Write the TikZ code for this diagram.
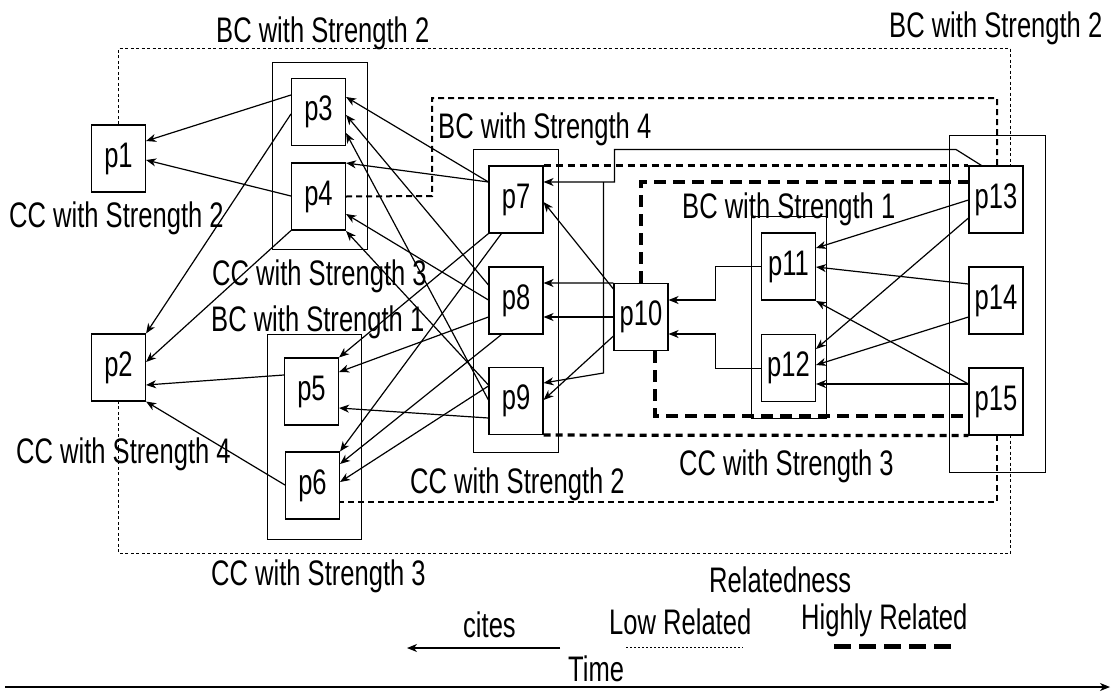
\documentclass[tikz,border=0pt]{standalone}
\usepackage{fontspec}
\newfontfamily\lbl[FakeStretch=0.72]{Liberation Sans}
\usetikzlibrary{arrows.meta}
\pgfdeclarelayer{bg}
\pgfsetlayers{bg,main}
\begin{document}
\begin{tikzpicture}[x=1pt,y=-1pt,
  pbox/.style={draw, fill=white, line width=1.1pt, minimum width=54pt, minimum height=67pt, inner sep=0pt, font=\lbl\fontsize{35.5}{40}\selectfont},
  grp/.style={draw, line width=1.1pt},
  lab/.style={anchor=base west, inner sep=0pt, font=\lbl\fontsize{35.5}{40}\selectfont},
  cite/.style={line width=1.2pt, -{Stealth[length=10pt,width=8pt,inset=3pt]}},
  low/.style={line width=1pt, dash pattern=on 3pt off 2.5pt},
  mid/.style={line width=2pt, dash pattern=on 6pt off 4pt},
  high/.style={line width=3.2pt, dash pattern=on 7pt off 5pt},
  vhigh/.style={line width=4.5pt, dash pattern=on 12pt off 7pt},
  legendhigh/.style={line width=5pt, dash pattern=on 17pt off 8pt},
]
\useasboundingbox (0,0) rectangle (1114,691);

% paper nodes
\node[pbox] (p1) at (118.5,158.5) {p1};
\node[pbox] (p2) at (118.5,367.5) {p2};
\node[pbox] (p3) at (318.5,112) {p3};
\node[pbox] (p4) at (318.5,196.5) {p4};
\node[pbox] (p5) at (311.5,391.5) {p5};
\node[pbox] (p6) at (312.5,485.5) {p6};
\node[pbox] (p7) at (516,199.5) {p7};
\node[pbox] (p8) at (516,300.5) {p8};
\node[pbox] (p9) at (516,401) {p9};
\node[pbox] (p10) at (641,317) {p10};
\node[pbox] (p11) at (788.5,266.5) {p11};
\node[pbox] (p12) at (788.5,368) {p12};
\node[pbox] (p13) at (996,199.5) {p13};
\node[pbox] (p14) at (996,300.5) {p14};
\node[pbox] (p15) at (996,401.5) {p15};

% labels
\node[lab] (t1) at (216,42) {BC with Strength 2};
\node[lab] (t2) at (889,37) {BC with Strength 2};
\node[lab] (t3) at (9,227) {CC with Strength 2};
\node[lab] (t4) at (212,285) {CC with Strength 3};
\node[lab] (t5) at (211,331) {BC with Strength 1};
\node[lab] (t6) at (16,463) {CC with Strength 4};
\node[lab] (t7) at (211,585) {CC with Strength 3};
\node[lab] (t8) at (438,138) {BC with Strength 4};
\node[lab] (t9) at (410,493) {CC with Strength 2};
\node[lab] (t10) at (682,218) {BC with Strength 1};
\node[lab] (t11) at (679,475) {CC with Strength 3};
\node[lab] (t12) at (709,592) {Relatedness};
\node[lab] (t13) at (463,637) {cites};
\node[lab] (t14) at (609,634) {Low Related};
\node[lab] (t15) at (801,629) {Highly Related};
\node[lab] (t16) at (568,681) {Time};

\coordinate (citesR) at (560,648);
\coordinate (citesL) at (407,648);
\coordinate (lowL) at (626,647);
\coordinate (lowR) at (743,647);
\coordinate (highL) at (834,646);
\coordinate (highR) at (951,646);
\coordinate (timeL) at (5,687);
\coordinate (timeR) at (1110,687);

\begin{pgfonlayer}{bg}
\fill[white] (0,0) rectangle (1114,691);
% groups
\draw[grp] (272.5,62.5) rectangle (367.5,249.5);
\draw[grp] (267.5,334.5) rectangle (361.5,539.5);
\draw[grp] (473.5,149.5) rectangle (558.5,452.5);
\draw[grp] (751.5,216.5) rectangle (826.5,418.5);
\draw[grp] (949.5,135.5) rectangle (1045.5,472.5);

% relatedness regions
\draw[low] (p1.north) -- (118.5,48.5) -- (1010.5,48.5) -- (1010.5,166);
\draw[low] (1010.5,435) -- (1010.5,553.5) -- (118.5,553.5) -- (p2.south);
\draw[mid] (p4.east) -- (432,196) -- (432,98) -- (997,98) -- (997,166);
\draw[mid] (997,435) -- (997,502) -- (p6.east |- 0,502);
\draw[high] (p7.north east) -- (p13.north west);
\draw[high] (p9.south east) -- (p15.south west);
\draw[vhigh] (p10.north) -- (641,182) -- (p13.west |- 0,182);
\draw[vhigh] (655,351) -- (655,416) -- (p15.west |- 0,416);

% citations, left part
\draw[cite] (p3.west |- 0,95) -- (p1.east |- 0,141);
\draw[cite] (p4.west |- 0,196) -- (p1.east |- 0,160);
\draw[cite] (p3.west |- 0,114) -- (p2.north east);
\draw[cite] (p4.south west) -- (p2.east |- 0,362);
\draw[cite] (p5.west |- 0,375) -- (p2.east |- 0,385);
\draw[cite] (p6.west |- 0,485) -- (p2.south east);

% citations, middle part
\draw[cite] (p7.west |- 0,182) -- (p3.east |- 0,97);
\draw[cite] (p7.west |- 0,182) -- (p4.east |- 0,163);
\draw[cite] (p8.west |- 0,285) -- (p3.east |- 0,115);
\draw[cite] (p8.west |- 0,300) -- (p4.east |- 0,214);
\draw[cite] (p9.west |- 0,400) -- (p3.east |- 0,133);
\draw[cite] (p9.west |- 0,385) -- (p4.east |- 0,231);
\draw[cite] (p7.south west) -- (p5.north east);
\draw[cite] ([xshift=13pt]p7.south west) -- (p6.north east);
\draw[cite] (p8.west |- 0,317) -- (p5.east |- 0,372);
\draw[cite] ([xshift=13pt]p8.south west) -- (p6.east |- 0,464);
\draw[cite] (p9.west |- 0,418) -- (p5.east |- 0,408);
\draw[cite] (p9.west |- 0,386) -- (p6.east |- 0,482);

% citations, right part
\draw[cite] (p10.west |- 0,289) -- (p7.east |- 0,202);
\draw[cite] (p10.north west) -- (p8.east |- 0,283);
\draw[cite] (p10.west |- 0,317) -- (p8.east |- 0,317);
\draw[cite] (p10.west |- 0,336) -- (p9.east |- 0,400);
\draw[cite] ([xshift=13pt]p13.north west) -- (956,149.5) -- (614.5,149.5) -- (614.5,182) -- (p7.east |- 0,182);
\draw[cite] (603.5,182) -- (603.5,373) -- (p9.east |- 0,383);
\draw[cite] (p11.west |- 0,266.5) -- (715.5,266.5) -- (715.5,300) -- (p10.east |- 0,300);
\draw[cite] (p12.west |- 0,368.5) -- (715.5,368.5) -- (715.5,334) -- (p10.east |- 0,334);
\draw[cite] (p13.west |- 0,200) -- (p11.east |- 0,248);
\draw[cite] (p13.west |- 0,218) -- (p12.east |- 0,349);
\draw[cite] (p14.west |- 0,284) -- (p11.east |- 0,267);
\draw[cite] (p14.west |- 0,317) -- (p12.east |- 0,365);
\draw[cite] (p15.west |- 0,384) -- (p11.east |- 0,301);
\draw[cite] (p15.west |- 0,384) -- (p12.east |- 0,384);

% legend
\draw[cite] (citesR) -- (citesL);
\draw[line width=1pt, dash pattern=on 2pt off 2pt] (lowL) -- (lowR);
\draw[legendhigh] (highL) -- (highR);
\draw[cite] (timeL) -- (timeR);
\end{pgfonlayer}
\end{tikzpicture}
\end{document}
